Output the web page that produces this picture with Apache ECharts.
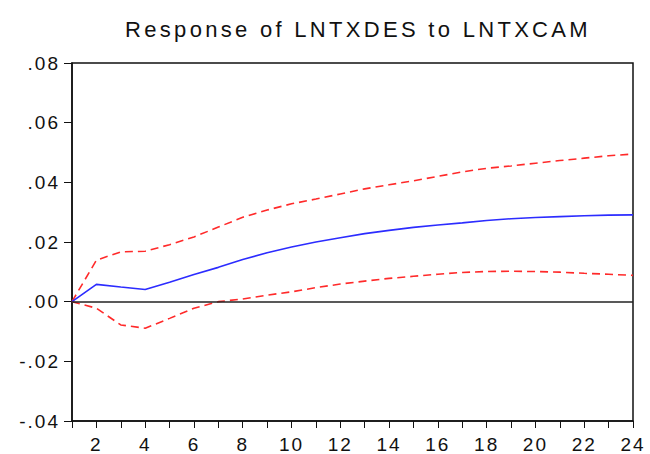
<!DOCTYPE html>
<html><head><meta charset="utf-8">
<script src="https://cdn.jsdelivr.net/npm/echarts@6/dist/echarts.min.js"></script>
<style>
html,body{margin:0;padding:0;background:#fff}
#c{width:650px;height:454px}
#c text[style*="22px"]{letter-spacing:3.3px}
#c text[style*="19px"]{letter-spacing:2px}
</style>
</head><body><div id="c"></div>
<script>
const periods = [1,2,3,4,5,6,7,8,9,10,11,12,13,14,15,16,17,18,19,20,21,22,23,24];
const response = [0,0.0058,0.0049,0.0041,0.0065,0.0091,0.0115,0.0141,0.0164,0.0183,0.0200,0.0214,0.0228,0.0239,0.0249,0.0257,0.0264,0.0272,0.0278,0.0282,0.0285,0.0288,0.0290,0.0291];
const upperBand = [0,0.0139,0.0167,0.0169,0.0191,0.0217,0.0250,0.0283,0.0307,0.0328,0.0344,0.0361,0.0378,0.0392,0.0405,0.0420,0.0435,0.0447,0.0455,0.0464,0.0473,0.0481,0.0489,0.0495];
const lowerBand = [0,-0.0022,-0.0078,-0.0089,-0.0056,-0.0022,0.0000,0.0009,0.0022,0.0033,0.0047,0.0059,0.0069,0.0078,0.0085,0.0092,0.0098,0.0101,0.0102,0.0101,0.0099,0.0095,0.0092,0.0088];
const yTicks = [-0.04,-0.02,0,0.02,0.04,0.06,0.08];
const titleText = 'Response of LNTXDES to LNTXCAM';

const pair = arr => periods.map((p,i)=>[p,arr[i]]);
const font = "'Liberation Sans', Arial, sans-serif";
const chart = echarts.init(document.getElementById('c'), null, {renderer:'svg'});
chart.setOption({
  animation:false,
  title:{text:titleText,left:353,top:13,textAlign:'center',
    textStyle:{fontFamily:font,fontSize:22,fontWeight:'normal',color:'#111'}},
  grid:{left:72,right:17,top:63,bottom:30,show:true,borderColor:'#111',borderWidth:1.5,backgroundColor:'#fff'},
  xAxis:{type:'value',min:1,max:24,interval:1,
    axisLine:{show:true,onZero:false,lineStyle:{color:'#111',width:1.5}},
    axisTick:{show:true,length:7,lineStyle:{color:'#111',width:1}},
    splitLine:{show:false},
    axisLabel:{fontFamily:font,fontSize:19,color:'#111',margin:14,
      formatter:v=>(v%2===0?String(v):'')}},
  yAxis:{type:'value',min:yTicks[0],max:yTicks[yTicks.length-1],interval:0.02,
    axisLine:{show:true,onZero:false,lineStyle:{color:'#111',width:1.5}},
    axisTick:{show:true,length:8,lineStyle:{color:'#111',width:1}},
    splitLine:{show:false},
    axisLabel:{fontFamily:font,fontSize:19,color:'#111',margin:12,
      formatter:v=>{const s=Math.abs(v).toFixed(2).replace(/^0/,''); return (v<-1e-9?'-':'')+s;}}},
  series:[
    {type:'line',data:pair(response),symbol:'none',lineStyle:{color:'#2c2cff',width:1.6},z:3,
      markLine:{silent:true,symbol:'none',label:{show:false},lineStyle:{color:'#222',width:1.5,type:'solid'},data:[{yAxis:0}]}},
    {type:'line',data:pair(upperBand),symbol:'none',lineStyle:{color:'#ff2a2a',width:1.6,type:[8,5]},z:2},
    {type:'line',data:pair(lowerBand),symbol:'none',lineStyle:{color:'#ff2a2a',width:1.6,type:[8,5]},z:2}
  ]
});
</script></body></html>
